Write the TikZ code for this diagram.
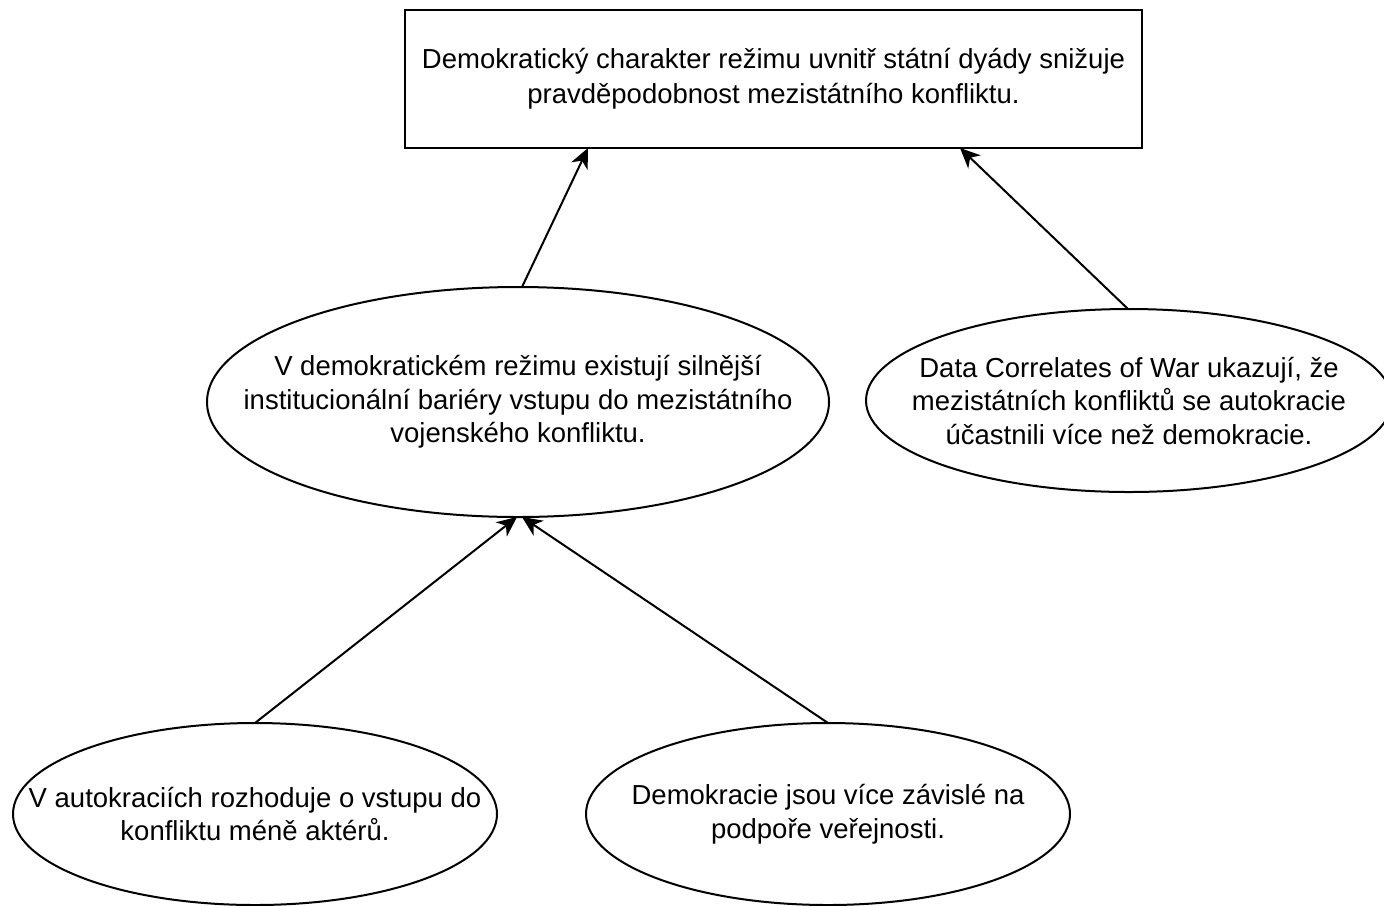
\documentclass[tikz,border=0pt]{standalone}
\usepackage{fontspec}
\setmainfont{Liberation Sans}
\usetikzlibrary{shapes.geometric,arrows.meta}
\begin{document}
\begin{tikzpicture}[x=0.5pt,y=-0.5pt,
  box/.style={draw,line width=1pt,rectangle,inner sep=0pt,outer sep=0pt,minimum width=368.5pt,minimum height=69pt},
  oval/.style={draw,line width=1pt,ellipse,inner sep=0pt,outer sep=0pt},
  txt/.style={align=center,inner sep=0pt,font=\fontsize{13.75}{16.75}\selectfont},
  toptxt/.style={align=center,inner sep=0pt,font=\fontsize{13.75}{17.5}\selectfont},
  arr/.style={line width=1pt,-{Stealth[length=10pt,width=9pt,inset=3pt]}}]
\useasboundingbox (0,0) rectangle (1384,905);
\node[box] (top) at (773.5,79) {};
\node[toptxt] (topt) at (top) {Demokratický charakter režimu uvnitř státní dyády snižuje\\pravděpodobnost mezistátního konfliktu.};
\node[oval,minimum width=311pt,minimum height=115pt] (inst) at (518,402) {};
\node[txt] (instt) at (inst) {V demokratickém režimu existují silnější\\institucionální bariéry vstupu do mezistátního\\vojenského konfliktu.};
\node[oval,minimum width=263pt,minimum height=91.5pt] (data) at (1129,400.5) {};
\node[txt] (datat) at (data) {Data Correlates of War ukazují, že\\mezistátních konfliktů se autokracie\\účastnili více než demokracie.};
\node[oval,minimum width=242pt,minimum height=91pt] (auto) at (255,814) {};
\node[txt] (autot) at (auto) {V autokraciích rozhoduje o vstupu do\\konfliktu méně aktérů.};
\node[oval,minimum width=242pt,minimum height=91pt] (demo) at (828,814) {};
\node[txt] (demot) at (demo) {Demokracie jsou více závislé na\\podpoře veřejnosti.};
\draw[arr] ([xshift=2pt]inst.north) -- ([xshift=-92.75pt]top.south);
\draw[arr] ([xshift=-0.5pt]data.north) -- ([xshift=93.25pt]top.south);
\draw[arr] (auto.north) -- ([xshift=-0.5pt]inst.south);
\draw[arr] (demo.north) -- ([xshift=2pt]inst.south);
\end{tikzpicture}
\end{document}
